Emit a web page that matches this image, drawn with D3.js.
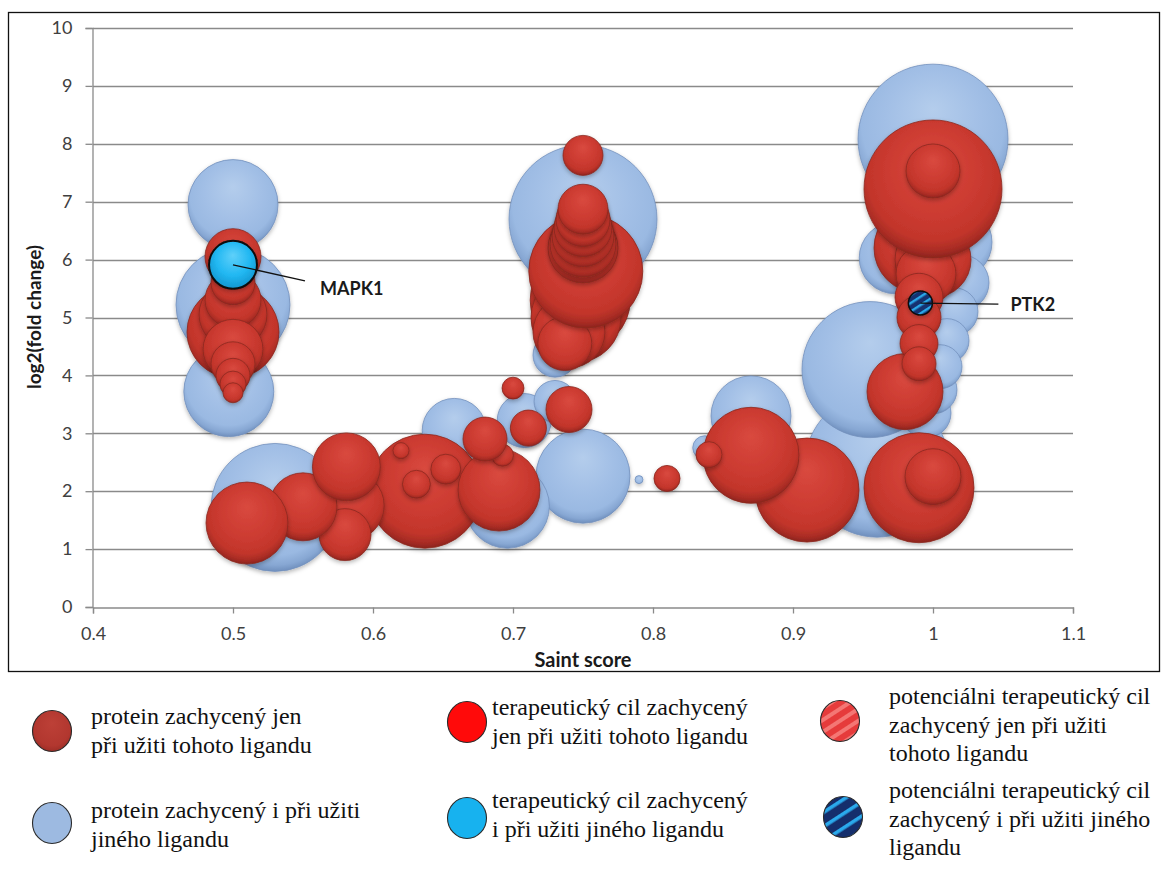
<!DOCTYPE html>
<html>
<head>
<meta charset="utf-8">
<script src="https://cdn.jsdelivr.net/npm/d3@7"></script>
<style>
  body { margin: 0; background: #ffffff; }
  svg { display: block; }
</style>
</head>
<body>
<svg id="chart" width="1161" height="874"></svg>
<script>
// Axis ticks
const xTicks = [0.4, 0.5, 0.6, 0.7, 0.8, 0.9, 1.0, 1.1];
const yTicks = [0, 1, 2, 3, 4, 5, 6, 7, 8, 9, 10];

// Proteins also captured with another ligand (light blue), in drawing order
const sharedScore = [1.0, 0.75, 0.96, 0.955, 0.53, 0.5, 0.75, 0.5, 0.497, 0.696, 0.87, 1.015, 0.973, 0.658, 1.02, 0.708, 0.995, 1.015, 1.0, 0.73, 1.01, 1.005, 0.73, 0.837, 0.79];
const sharedLogFC = [8.08, 6.7, 2.45, 4.1, 1.72, 5.22, 2.26, 6.95, 3.72, 1.74, 3.3, 6.3, 6.03, 3.05, 5.6, 3.22, 3.35, 5.1, 3.75, 4.35, 4.6, 4.15, 3.55, 2.75, 2.2];
const sharedSize  = [225, 219, 207.4, 185, 163.8, 130, 88.4, 81, 81, 70.6, 64, 57.8, 51.8, 41, 31.4, 29.2, 25, 23, 23, 19.4, 19.4, 19.4, 17.6, 5.8, 0.64];

// Proteins captured only with this ligand (dark red), in drawing order
const uniqueScore = [0.91, 0.637, 0.87, 0.84, 0.81, 0.583, 0.58, 0.55, 0.51, 0.581, 0.62, 0.652, 0.631, 0.69, 0.6925, 0.68, 0.70, 0.711, 0.74,
                     0.99, 1.0, 0.98, 0.99, 1.0, 0.995, 1.0, 1.0, 0.99, 0.99, 0.99, 0.99,
                     0.748, 0.745, 0.74, 0.737, 0.752, 0.75, 0.75, 0.75, 0.75, 0.75, 0.75, 0.75,
                     0.5, 0.5, 0.5, 0.5, 0.5, 0.5, 0.5, 0.5, 0.5, 0.5];
const uniqueLogFC = [2.02, 2.0, 2.62, 2.63, 2.22, 1.75, 1.25, 1.73, 1.45, 2.42, 2.7, 2.38, 2.12, 2.02, 2.62, 2.9, 3.78, 3.09, 3.41,
                     2.06, 2.25, 3.72, 6.2, 6.0, 5.75, 7.22, 7.53, 5.35, 5.0, 4.55, 4.2,
                     5.3, 5.0, 4.75, 4.55, 5.8, 6.2, 6.27, 6.41, 6.55, 6.69, 6.87, 7.8,
                     4.75, 5.05, 5.3, 5.6, 6.05, 4.45, 4.2, 4.0, 3.85, 3.7];
const uniqueSize  = [108.2, 130, 92.2, 6.8, 6.8, 49, 27, 46.2, 67.2, 46.2, 2.6, 9, 7.8, 67.2, 4.8, 19.4, 4.8, 13, 21.2,
                     121, 31.4, 57.8, 81, 57.8, 36, 190.4, 29.2, 23, 19.4, 14.4, 11.6,
                     100, 81, 51.8, 29.2, 130, 49, 43.6, 38.4, 33.6, 29.2, 25, 16,
                     84.6, 46.2, 31.4, 19.4, 31.4, 36, 19.4, 11.6, 6.8, 4];

// Named therapeutic targets
const targetName  = ["MAPK1", "PTK2"];
const targetScore = [0.5, 0.991];
const targetLogFC = [5.91, 5.25];
const targetSize  = [23, 5.76];
const targetKind  = ["known", "potential"];

// Legend entries
const legendLines = [
  ["protein zachycený jen", "při užiti tohoto ligandu"],
  ["terapeutický cil zachycený", "jen při užiti tohoto ligandu"],
  ["potenciálni terapeutický cil", "zachycený jen při užiti", "tohoto ligandu"],
  ["protein zachycený i při užiti", "jiného ligandu"],
  ["terapeutický cil zachycený", "i při užiti jiného ligandu"],
  ["potenciálni terapeutický cil", "zachycený i při užiti jiného", "ligandu"]
];
const legendKind = ["unique", "knownUnique", "potentialUnique", "shared", "knownShared", "potentialShared"];

const svg = d3.select("#chart");
const plotBox = { left: 93, right: 1073, top: 28, bottom: 607 };

const x = d3.scaleLinear().domain([0.4, 1.1]).range([plotBox.left, plotBox.right]);
const y = d3.scaleLinear().domain([0, 10]).range([plotBox.bottom, plotBox.top]);
const r = d3.scaleSqrt().domain([0, 100]).range([0, 50]);

// ---------- defs: gradients, stripes, shadow ----------
const defs = svg.append("defs");

function ballGradient(id, stops) {
  const g = defs.append("radialGradient").attr("id", id)
    .attr("cx", "50%").attr("cy", "42%").attr("r", "58%").attr("fx", "50%").attr("fy", "30%");
  stops.forEach(s => g.append("stop").attr("offset", s[0]).attr("stop-color", s[1]));
}
ballGradient("gradRed", [[0, "#d9493f"], [0.55, "#cc3b31"], [0.82, "#c2352b"], [0.93, "#a92c24"], [1, "#8c241d"]]);
ballGradient("gradBlue", [[0, "#b4cdec"], [0.55, "#a2bfe6"], [0.82, "#9ab9e2"], [0.93, "#87a7d3"], [1, "#6f8fbd"]]);
ballGradient("gradCyan", [[0, "#5fd0fa"], [0.6, "#22b8f2"], [1, "#1296d0"]]);
ballGradient("gradLegendRed", [[0, "#bd4037"], [0.8, "#b2372f"], [1, "#9e2e27"]]);

const shadow = defs.append("filter").attr("id", "shadow")
  .attr("x", "-30%").attr("y", "-30%").attr("width", "160%").attr("height", "160%");
shadow.append("feDropShadow").attr("dx", 0).attr("dy", 2).attr("stdDeviation", 2)
  .attr("flood-color", "#000").attr("flood-opacity", 0.28);

function stripePattern(id, base, stripe, w, frac) {
  const p = defs.append("pattern").attr("id", id).attr("patternUnits", "userSpaceOnUse")
    .attr("width", w).attr("height", w).attr("patternTransform", "rotate(-33)");
  p.append("rect").attr("width", w).attr("height", w).attr("fill", base);
  p.append("rect").attr("y", 0).attr("width", w).attr("height", w * frac).attr("fill", stripe);
}
stripePattern("stripeRed", "#e63b3b", "#f47774", 10, 0.4);
stripePattern("stripeNavy", "#152e6c", "#2aa9ec", 12, 0.3);
stripePattern("stripeNavySmall", "#163070", "#2aa7e8", 7, 0.35);

// ---------- frame ----------
svg.append("rect").attr("x", 8.5).attr("y", 12.5).attr("width", 1151).attr("height", 659)
  .attr("fill", "none").attr("stroke", "#111").attr("stroke-width", 1.3);

// ---------- grid ----------
svg.append("g").selectAll("line").data(yTicks.filter(d => d > 0)).join("line")
  .attr("x1", x(0.4)).attr("x2", x(1.1))
  .attr("y1", d => Math.round(y(d)) + 0.5).attr("y2", d => Math.round(y(d)) + 0.5)
  .attr("stroke", "#8a8a8a").attr("stroke-width", 1.3);

// ---------- axes ----------
const sans = "Lato, 'Open Sans', sans-serif";
const xAxis = svg.append("g").attr("transform", `translate(0,${plotBox.bottom + 0.5})`)
  .call(d3.axisBottom(x).tickValues(xTicks).tickSize(6).tickPadding(14).tickFormat(d3.format("~g")));
const yAxis = svg.append("g").attr("transform", `translate(${plotBox.left - 0.5},0)`)
  .call(d3.axisLeft(y).tickValues(yTicks).tickSize(7).tickPadding(13).tickFormat(d3.format("d")));
[xAxis, yAxis].forEach(a => {
  a.select(".domain").attr("stroke", "#8a8a8a").attr("stroke-width", 1.3);
  a.selectAll(".tick line").attr("stroke", "#8a8a8a").attr("stroke-width", 1.3);
  a.selectAll(".tick text").attr("fill", "#404040").attr("font-family", sans).attr("font-size", 18);
});

svg.append("text").attr("x", (plotBox.left + plotBox.right) / 2).attr("y", 667)
  .attr("text-anchor", "middle").attr("font-family", sans).attr("font-weight", 700)
  .attr("font-size", 20).attr("fill", "#1a1a1a").text("Saint score");
svg.append("text").attr("transform", "translate(41,317) rotate(-90)")
  .attr("text-anchor", "middle").attr("font-family", sans).attr("font-weight", 700)
  .attr("font-size", 19).attr("fill", "#1a1a1a").text("log2(fold change)");

// ---------- bubbles ----------
const plot = svg.append("g");
const shared = sharedScore.map((s, i) => ({ s, v: sharedLogFC[i], size: sharedSize[i] }));
const unique = uniqueScore.map((s, i) => ({ s, v: uniqueLogFC[i], size: uniqueSize[i] }));

plot.append("g").attr("filter", "url(#shadow)").selectAll("circle").data(shared).join("circle")
  .attr("cx", d => x(d.s)).attr("cy", d => y(d.v)).attr("r", d => r(d.size))
  .attr("fill", "url(#gradBlue)").attr("stroke", "#7391bd").attr("stroke-width", 0.8);

plot.append("g").selectAll("circle").data(unique).join("circle")
  .attr("cx", d => x(d.s)).attr("cy", d => y(d.v)).attr("r", d => r(d.size))
  .attr("fill", "url(#gradRed)").attr("stroke", "#8a2820").attr("stroke-width", 0.8)
  .attr("filter", "url(#shadow)");

// ---------- named targets with leader lines ----------
const targets = targetName.map((n, i) => ({ n, s: targetScore[i], v: targetLogFC[i], size: targetSize[i], kind: targetKind[i] }));
// label anchor relative to the marker centre, and where the leader line ends
const labelOffset = { MAPK1: { dx: 87, dy: 30, lx: 72, ly: 16 }, PTK2: { dx: 90, dy: 8, lx: 78, ly: 1 } };
targets.forEach(t => {
  const cx = x(t.s), cy = y(t.v), o = labelOffset[t.n];
  plot.append("circle").attr("cx", cx).attr("cy", cy).attr("r", r(t.size))
    .attr("fill", t.kind === "known" ? "url(#gradCyan)" : "url(#stripeNavySmall)")
    .attr("stroke", "#0b0b0b").attr("stroke-width", t.kind === "known" ? 2 : 1.5)
    .attr("filter", "url(#shadow)");
  plot.append("line").attr("x1", cx).attr("y1", cy).attr("x2", cx + o.lx).attr("y2", cy + o.ly)
    .attr("stroke", "#111").attr("stroke-width", 1.3);
  plot.append("text").attr("x", cx + o.dx).attr("y", cy + o.dy)
    .attr("font-family", sans).attr("font-weight", 700).attr("font-size", 18)
    .attr("fill", "#1a1a1a").text(t.n);
});

// ---------- legend ----------
const markerFill = {
  unique: "url(#gradLegendRed)", knownUnique: "#ff0a0a", potentialUnique: "url(#stripeRed)",
  shared: "#9dbae1", knownShared: "#17b2ef", potentialShared: "url(#stripeNavy)"
};
const legendPos = [
  { mx: 52, my: 731, tx: 91, ty: 724 },
  { mx: 467, my: 722, tx: 492, ty: 715 },
  { mx: 840, my: 721, tx: 889, ty: 704 },
  { mx: 52, my: 823, tx: 91, ty: 818 },
  { mx: 467, my: 818, tx: 492, ty: 808 },
  { mx: 843, my: 817, tx: 889, ty: 798 }
];
const legend = svg.append("g");
legendKind.forEach((k, i) => {
  const p = legendPos[i];
  legend.append("ellipse").attr("cx", p.mx).attr("cy", p.my).attr("rx", 19.5).attr("ry", 20.5)
    .attr("fill", markerFill[k]).attr("stroke", "#2a2a2a").attr("stroke-width", 1.1);
  const t = legend.append("text").attr("x", p.tx).attr("y", p.ty)
    .attr("font-family", "'Liberation Serif', 'Times New Roman', serif").attr("font-size", 24).attr("fill", "#111");
  legendLines[i].forEach((line, j) => {
    t.append("tspan").attr("x", p.tx).attr("dy", j === 0 ? 0 : 28.5).text(line);
  });
});
</script>
</body>
</html>
